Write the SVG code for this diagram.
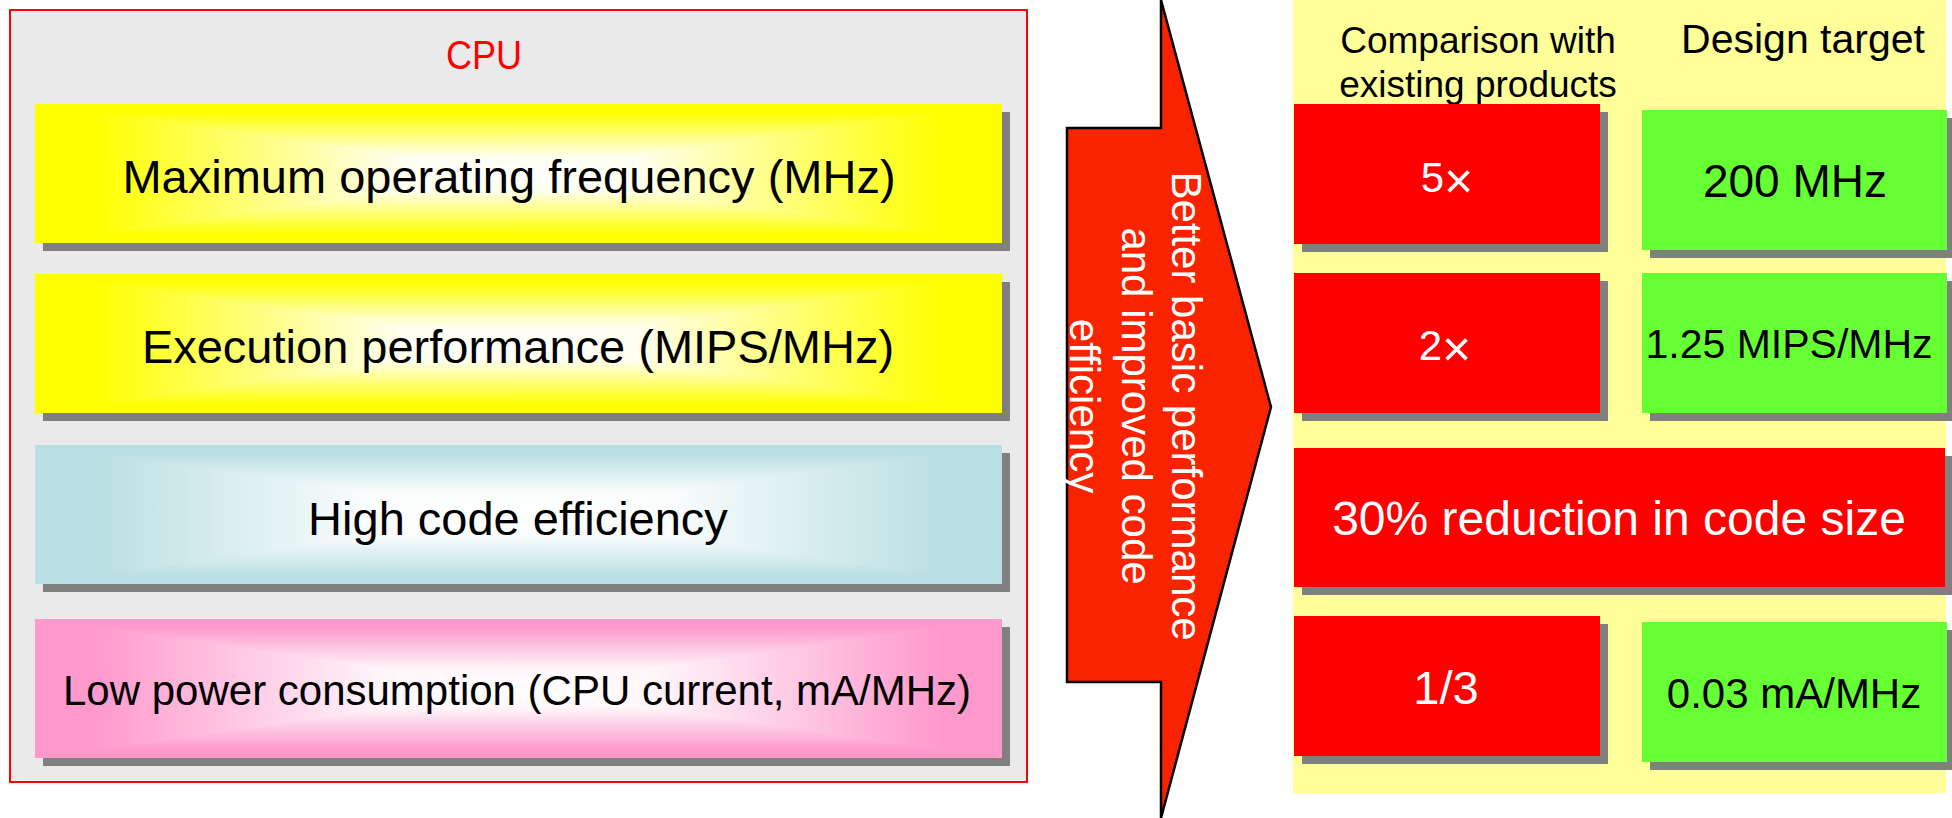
<svg xmlns="http://www.w3.org/2000/svg" width="1952" height="818" viewBox="0 0 1952 818">
<defs>
  <linearGradient id="yh" gradientUnits="userSpaceOnUse" x1="0" y1="0" x2="967" y2="0">
    <stop offset="0" stop-color="#FFFF00"/><stop offset="0.06" stop-color="#FFFF00"/><stop offset="0.38" stop-color="#FFFFF0"/><stop offset="0.5" stop-color="#FFFFFF"/><stop offset="0.62" stop-color="#FFFFF0"/><stop offset="0.94" stop-color="#FFFF00"/><stop offset="1" stop-color="#FFFF00"/>
  </linearGradient>
  <linearGradient id="yv" gradientUnits="userSpaceOnUse" x1="0" y1="0" x2="0" y2="139">
    <stop offset="0" stop-color="#FFFF00"/><stop offset="0.06" stop-color="#FFFF00"/><stop offset="0.38" stop-color="#FFFFF0"/><stop offset="0.5" stop-color="#FFFFFF"/><stop offset="0.62" stop-color="#FFFFF0"/><stop offset="0.94" stop-color="#FFFF00"/><stop offset="1" stop-color="#FFFF00"/>
  </linearGradient>
  <linearGradient id="ch" gradientUnits="userSpaceOnUse" x1="0" y1="0" x2="967" y2="0">
    <stop offset="0" stop-color="#B9DFE2"/><stop offset="0.06" stop-color="#B9DFE2"/><stop offset="0.35" stop-color="#FBFDFD"/><stop offset="0.5" stop-color="#FFFFFF"/><stop offset="0.65" stop-color="#FBFDFD"/><stop offset="0.94" stop-color="#B9DFE2"/><stop offset="1" stop-color="#B9DFE2"/>
  </linearGradient>
  <linearGradient id="cv" gradientUnits="userSpaceOnUse" x1="0" y1="0" x2="0" y2="139">
    <stop offset="0" stop-color="#B9DFE2"/><stop offset="0.06" stop-color="#B9DFE2"/><stop offset="0.35" stop-color="#FBFDFD"/><stop offset="0.5" stop-color="#FFFFFF"/><stop offset="0.65" stop-color="#FBFDFD"/><stop offset="0.94" stop-color="#B9DFE2"/><stop offset="1" stop-color="#B9DFE2"/>
  </linearGradient>
  <linearGradient id="ph" gradientUnits="userSpaceOnUse" x1="0" y1="0" x2="967" y2="0">
    <stop offset="0" stop-color="#FF99CC"/><stop offset="0.06" stop-color="#FF99CC"/><stop offset="0.36" stop-color="#FFF6FA"/><stop offset="0.5" stop-color="#FFFFFF"/><stop offset="0.64" stop-color="#FFF6FA"/><stop offset="0.94" stop-color="#FF99CC"/><stop offset="1" stop-color="#FF99CC"/>
  </linearGradient>
  <linearGradient id="pv" gradientUnits="userSpaceOnUse" x1="0" y1="0" x2="0" y2="139">
    <stop offset="0" stop-color="#FF99CC"/><stop offset="0.06" stop-color="#FF99CC"/><stop offset="0.36" stop-color="#FFF6FA"/><stop offset="0.5" stop-color="#FFFFFF"/><stop offset="0.64" stop-color="#FFF6FA"/><stop offset="0.94" stop-color="#FF99CC"/><stop offset="1" stop-color="#FF99CC"/>
  </linearGradient>
</defs>
<style>
  text{font-family:"Liberation Sans",Arial,sans-serif;}
  .shadow{fill:#808080;}
  .red{fill:#FF0000;}
  .green{fill:#66FF33;}
  .w{fill:#FFFFFF;}
  .k{fill:#000000;}
  .mid{text-anchor:middle;}
  .times{font-size:50px;}
</style>
<rect x="0" y="0" width="1952" height="818" fill="#FFFFFF"/>

<g id="cpu">
  <rect x="10" y="10" width="1017" height="772" fill="#EAEAEA" stroke="#FF0000" stroke-width="2"/>
  <text x="484" y="69" class="mid" font-size="40" fill="#FF0000" textLength="76" lengthAdjust="spacingAndGlyphs">CPU</text>
</g>

<g id="max-frequency" transform="translate(35,104)">
  <rect class="shadow" x="8" y="8" width="967" height="139"/>
  <rect x="0" y="0" width="967" height="139" fill="url(#yh)"/>
  <polygon points="0,0 967,0 483.5,69.5" fill="url(#yv)"/>
  <polygon points="0,139 967,139 483.5,69.5" fill="url(#yv)"/>
  <text x="474" y="89" class="mid k" font-size="47">Maximum operating frequency (MHz)</text>
</g>

<g id="execution-performance" transform="translate(35,274)">
  <rect class="shadow" x="8" y="8" width="967" height="139"/>
  <rect x="0" y="0" width="967" height="139" fill="url(#yh)"/>
  <polygon points="0,0 967,0 483.5,69.5" fill="url(#yv)"/>
  <polygon points="0,139 967,139 483.5,69.5" fill="url(#yv)"/>
  <text x="483" y="89" class="mid k" font-size="47">Execution performance (MIPS/MHz)</text>
</g>

<g id="code-efficiency" transform="translate(35,445)">
  <rect class="shadow" x="8" y="8" width="967" height="139"/>
  <rect x="0" y="0" width="967" height="139" fill="url(#ch)"/>
  <polygon points="0,0 967,0 483.5,69.5" fill="url(#cv)"/>
  <polygon points="0,139 967,139 483.5,69.5" fill="url(#cv)"/>
  <text x="483" y="90" class="mid k" font-size="47">High code efficiency</text>
</g>

<g id="low-power" transform="translate(35,619)">
  <rect class="shadow" x="8" y="8" width="967" height="139"/>
  <rect x="0" y="0" width="967" height="139" fill="url(#ph)"/>
  <polygon points="0,0 967,0 483.5,69.5" fill="url(#pv)"/>
  <polygon points="0,139 967,139 483.5,69.5" fill="url(#pv)"/>
  <text x="482" y="86" class="mid k" font-size="42">Low power consumption (CPU current, mA/MHz)</text>
</g>

<g id="arrow">
  <polygon points="1161,0 1271,407 1161,818 1161,682 1067,682 1067,128 1161,128" fill="#FA2300" stroke="#000000" stroke-width="2.5"/>
  <g transform="translate(1172,406) rotate(90)" font-size="42">
    <text x="0" y="0" class="mid w">Better basic performance</text>
    <text x="0" y="50" class="mid w">and improved code</text>
    <text x="0" y="102" class="mid w">efficiency</text>
  </g>
</g>

<g id="targets-panel">
  <rect x="1293" y="0" width="653" height="793" fill="#FFFF99"/>
  <text x="1478" y="53" class="mid k" font-size="37">Comparison with</text>
  <text x="1478" y="97" class="mid k" font-size="37">existing products</text>
  <text x="1803" y="53" class="mid k" font-size="41">Design target</text>
</g>

<g id="freq-compare">
  <rect class="shadow" x="1302" y="112" width="306" height="140"/>
  <rect class="red" x="1294" y="104" width="306" height="140"/>
  <text x="1447" y="192" class="mid w" font-size="42">5<tspan class="times" dy="6">×</tspan></text>
</g>
<g id="freq-target">
  <rect class="shadow" x="1650" y="118" width="305" height="140"/>
  <rect class="green" x="1642" y="110" width="305" height="140"/>
  <text x="1795" y="197" class="mid k" font-size="46">200 MHz</text>
</g>

<g id="perf-compare">
  <rect class="shadow" x="1302" y="281" width="306" height="140"/>
  <rect class="red" x="1294" y="273" width="306" height="140"/>
  <text x="1445" y="360" class="mid w" font-size="42">2<tspan class="times" dy="6">×</tspan></text>
</g>
<g id="perf-target">
  <rect class="shadow" x="1650" y="281" width="305" height="140"/>
  <rect class="green" x="1642" y="273" width="305" height="140"/>
  <text x="1789" y="358" class="mid k" font-size="41">1.25 MIPS/MHz</text>
</g>

<g id="code-size">
  <rect class="shadow" x="1302" y="456" width="651" height="139"/>
  <rect class="red" x="1294" y="448" width="651" height="139"/>
  <text x="1619" y="535" class="mid w" font-size="48">30% reduction in code size</text>
</g>

<g id="power-compare">
  <rect class="shadow" x="1302" y="624" width="306" height="140"/>
  <rect class="red" x="1294" y="616" width="306" height="140"/>
  <text x="1446" y="704" class="mid w" font-size="47">1/3</text>
</g>
<g id="power-target">
  <rect class="shadow" x="1650" y="630" width="305" height="140"/>
  <rect class="green" x="1642" y="622" width="305" height="140"/>
  <text x="1794" y="708" class="mid k" font-size="42">0.03 mA/MHz</text>
</g>

<g id="connectors"></g>
</svg>
